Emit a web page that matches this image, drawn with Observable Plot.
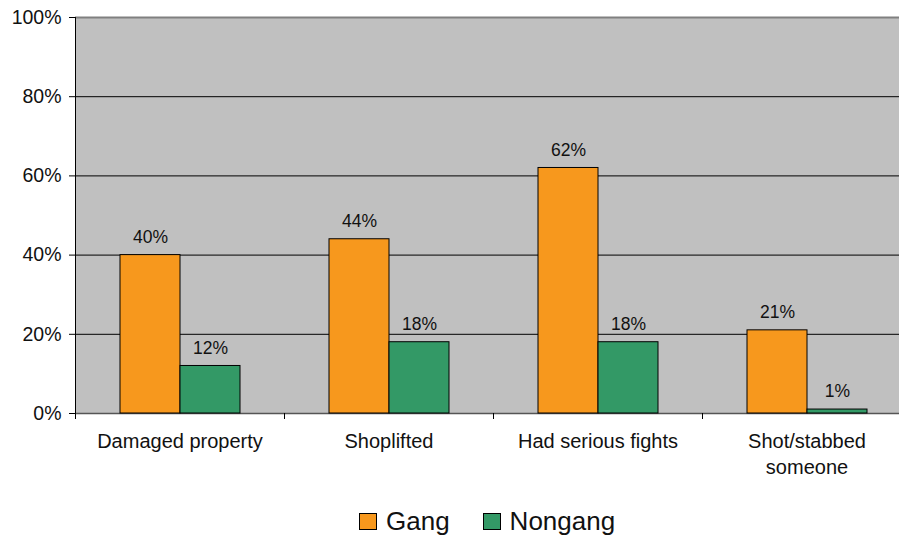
<!DOCTYPE html>
<html>
<head>
<meta charset="utf-8">
<script src="https://cdn.jsdelivr.net/npm/d3@7"></script>
<script src="https://cdn.jsdelivr.net/npm/@observablehq/plot@0.6"></script>
<style>
  html, body { margin: 0; padding: 0; background: #fff; overflow: hidden; width: 899px; height: 536px; }
  #wrap { position: relative; width: 899px; height: 536px; overflow: hidden; }
  #chart svg { display: block; max-width: none !important; }
  #legend { position: absolute; left: 359px; top: 503px; height: 36px; display: flex; align-items: center;
            font-family: "Liberation Sans", Arial, sans-serif; font-size: 26px; color: #111; }
  .item { display: flex; align-items: center; margin-right: 33px; }
  .sw { width: 16px; height: 15px; border: 1px solid #000; margin-right: 9px; }
</style>
</head>
<body>
<div id="wrap">
  <div id="chart"></div>
  <div id="legend"></div>
</div>
<script>
const categories = ["Damaged property", "Shoplifted", "Had serious fights", "Shot/stabbed someone"];
const tickLabels = ["Damaged property", "Shoplifted", "Had serious fights", "Shot/stabbed\nsomeone"];
const series = ["Gang", "Nongang"];
const gang = [40, 44, 62, 21];
const nongang = [12, 18, 18, 1];
const yTicks = [0, 20, 40, 60, 80, 100];
const colors = ["#F7981D", "#339966"];

const data = categories.flatMap((c, i) => [
  {category: c, group: series[0], value: gang[i]},
  {category: c, group: series[1], value: nongang[i]}
]);

const W = 911, H = 490, ML = 75, MR = 0, MT = 17, MB = 77;
const halfStep = (W - ML - MR) / categories.length / 2;

const chart = Plot.plot({
  width: W, height: H,
  marginLeft: ML, marginRight: MR, marginTop: MT, marginBottom: MB,
  style: {fontFamily: "Liberation Sans, Arial, sans-serif", fontSize: "19px", color: "#111", background: "#fff", overflow: "visible", maxWidth: "none"},
  fx: {domain: categories, padding: 0, label: null},
  x: {domain: series, paddingInner: 0, paddingOuter: 0.74, axis: null},
  y: {domain: [0, 100], label: null},
  color: {domain: series, range: colors},
  marks: [
    Plot.frame({fill: "#c0c0c0", stroke: null, facet: "super"}),
    Plot.gridY(yTicks.slice(1, -1), {stroke: "#000", strokeOpacity: 1, strokeWidth: 1}),
    Plot.ruleY([100], {stroke: "#808080", strokeWidth: 2}),
    Plot.ruleY([0], {stroke: "#555", strokeWidth: 1.5}),
    Plot.barY(data, {fx: "category", x: "group", y: "value", fill: "group", stroke: "#000", strokeWidth: 1}),
    Plot.text(data, {fx: "category", x: "group", y: "value", text: d => d.value + "%", dy: -18, fontSize: 17.5, fill: "#111"}),
    Plot.axisY(yTicks, {tickFormat: d => d + "%", tickSize: 6, tickPadding: 8, fontSize: 19.5, stroke: "#000"}),
    Plot.axisFx({anchor: "bottom", tickSize: 0, tickPadding: 16, fontSize: 20, lineHeight: 1.3,
      tickFormat: d => tickLabels[categories.indexOf(d)]}),
    Plot.axisFx({anchor: "bottom", tickSize: 6, tickFormat: () => "", dx: -halfStep, stroke: "#000"}),
    Plot.frame({anchor: "left", stroke: "#000", facet: "super"})
  ]
});
document.getElementById("chart").appendChild(chart);

const legend = document.getElementById("legend");
series.forEach((s, i) => {
  const item = document.createElement("div");
  item.className = "item";
  const sw = document.createElement("div");
  sw.className = "sw";
  sw.style.background = colors[i];
  const t = document.createElement("span");
  t.textContent = s;
  item.appendChild(sw);
  item.appendChild(t);
  legend.appendChild(item);
});
</script>
</body>
</html>
